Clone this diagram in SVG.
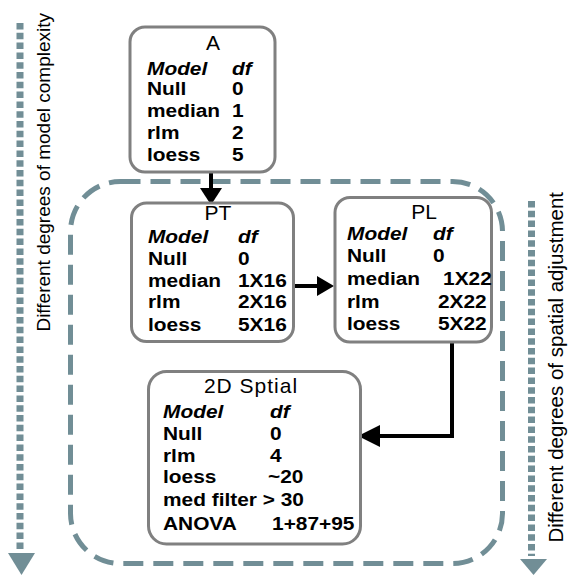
<svg xmlns="http://www.w3.org/2000/svg" width="569" height="575" viewBox="0 0 569 575">
<style>
.box{fill:#fff;stroke:#808080;stroke-width:3}
.t{font-family:"Liberation Sans",Arial,sans-serif;font-size:18px;font-weight:bold;fill:#000}
.i{font-style:italic}
.ttl{font-family:"Liberation Sans",Arial,sans-serif;font-size:21px;fill:#000;text-anchor:middle}
.side{font-family:"Liberation Sans",Arial,sans-serif;fill:#000;text-anchor:end}
.dots{stroke:#718e96;stroke-width:7;stroke-dasharray:6.5 3.3;fill:none}
.ah{fill:#718e96}
.conn{stroke:#000;stroke-width:4;fill:none}
</style>
<rect id="region" x="70.5" y="181.5" width="432" height="382" rx="50" fill="none" stroke="#718e96" stroke-width="5" stroke-dasharray="20 10"/>
<g id="axis-left">
<line class="dots" x1="20" y1="23" x2="20" y2="550"/>
<polygon class="ah" points="8,553 35,553 21.5,575"/>
<text class="side" font-size="19" transform="translate(50,13) rotate(-90)">Different degrees of model complexity</text>
</g>
<g id="axis-right">
<line class="dots" x1="531.5" y1="201" x2="531.5" y2="556"/>
<polygon class="ah" points="520,559 547,559 533.5,575"/>
<text class="side" font-size="20.5" transform="translate(563,192) rotate(-90)">Different degrees of spatial adjustment</text>
</g>
<g id="connectors">
<line class="conn" x1="211" y1="172" x2="211" y2="189"/>
<polygon points="200,188 222,188 211,205"/>
<line class="conn" x1="285" y1="286" x2="318" y2="286"/>
<polygon points="317,276 317,296 334,286"/>
<path class="conn" d="M452,342 V436 H379"/>
<polygon points="358,436 380,425 380,447"/>
</g>
<g id="node-A">
<rect class="box" x="130" y="27" width="145" height="145" rx="15"/>
<text class="ttl" x="213" y="50">A</text>
<g transform="translate(147,0) scale(1.16,1) translate(-147,0)">
<text class="t i" x="147" y="75">Model</text><text class="t i" x="220.3" y="75">df</text>
<text class="t" x="147" y="95">Null</text><text class="t" x="220.3" y="95">0</text>
<text class="t" x="147" y="117">median</text><text class="t" x="220.3" y="117">1</text>
<text class="t" x="147" y="139.5">rlm</text><text class="t" x="220.3" y="139.5">2</text>
<text class="t" x="147" y="161">loess</text><text class="t" x="220.3" y="161">5</text>
</g>
</g>
<g id="node-PT">
<rect class="box" x="131.5" y="203" width="162" height="138.5" rx="15"/>
<text class="ttl" x="218" y="220">PT</text>
<g transform="translate(148,0) scale(1.16,1) translate(-148,0)">
<text class="t i" x="148" y="243">Model</text><text class="t i" x="225.6" y="243">df</text>
<text class="t" x="148" y="265">Null</text><text class="t" x="225.6" y="265">0</text>
<text class="t" x="148" y="287">median</text><text class="t" x="225.6" y="287">1X16</text>
<text class="t" x="148" y="308.5">rlm</text><text class="t" x="225.6" y="308.5">2X16</text>
<text class="t" x="148" y="331">loess</text><text class="t" x="225.6" y="331">5X16</text>
</g>
</g>
<g id="node-PL">
<rect class="box" x="335" y="197.5" width="156.5" height="144.5" rx="15"/>
<text class="ttl" x="424" y="219">PL</text>
<g transform="translate(347,0) scale(1.16,1) translate(-347,0)">
<text class="t i" x="347" y="240">Model</text><text class="t i" x="421.1" y="240">df</text>
<text class="t" x="347" y="262.5">Null</text><text class="t" x="421.1" y="262.5">0</text>
<text class="t" x="347" y="285">median</text><text class="t" x="429.8" y="285">1X22</text>
<text class="t" x="347" y="308">rlm</text><text class="t" x="425.4" y="308">2X22</text>
<text class="t" x="347" y="330">loess</text><text class="t" x="425.4" y="330">5X22</text>
</g>
</g>
<g id="node-2D">
<rect class="box" x="148.5" y="371.5" width="212" height="172.5" rx="18"/>
<text class="ttl" x="251" y="393" font-size="22" letter-spacing="1">2D Sptial</text>
<g transform="translate(163,0) scale(1.16,1) translate(-163,0)">
<text class="t i" x="163" y="418">Model</text><text class="t i" x="255.2" y="418">df</text>
<text class="t" x="163" y="440">Null</text><text class="t" x="255.2" y="440">0</text>
<text class="t" x="163" y="462">rlm</text><text class="t" x="255.2" y="462">4</text>
<text class="t" x="163" y="483">loess</text><text class="t" x="253.5" y="483">~20</text>
<text class="t" x="163" y="506">med filter &gt; 30</text>
<text class="t" x="163" y="530">ANOVA</text><text class="t" x="257" y="530">1+87+95</text>
</g>
</g>
</svg>
